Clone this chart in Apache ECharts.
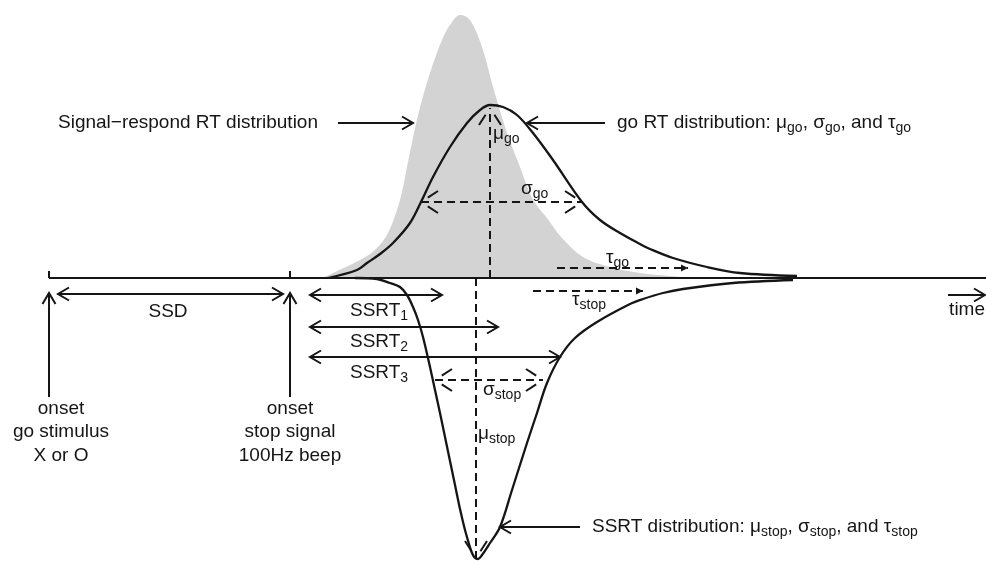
<!DOCTYPE html>
<html><head><meta charset="utf-8">
<script src="https://cdn.jsdelivr.net/npm/echarts@6/dist/echarts.min.js"></script>
<style>html,body{margin:0;padding:0;background:#fff}#c{width:986px;height:561px}</style>
</head><body><div id="c"></div>
<script>
// x: time (ms after go-stimulus onset), y: density (arbitrary units; SSRT drawn downward)
const goTime    = [279,308,318,331,344,361,372,384,401,418,431,441,454,468,484,504,533,551,571,591,601,624,658,691,748];
const goDensity = [0,8,15,24,35,55,76,101,131,155,168,173,171,163,145,118,76,58,45,34,29,20,11,5,2];

const srTime    = [273,284,311,326,339,351,358,365,373,383,393,401,411,421,433,444,458,471,484,498,513,534,561,591,621,646];
const srDensity = [0,5,18,28,45,78,111,145,178,211,238,253,263,258,231,191,145,111,78,60,40,21,11,5,2,0];

const ssrtTime    = [306,328,341,351,358,364,369,374,381,386,391,396,401,406,411,416,420,423,426,429,433,441,451,463,478,488,498,511,526,548,581,594,614,634,684,744];
const ssrtDensity = [0,-1,-5,-9,-17,-29,-42,-59,-89,-112,-135,-159,-183,-207,-231,-252,-266,-275,-280,-281,-277,-265,-249,-212,-165,-135,-105,-79,-60,-44,-26,-21,-15,-11,-5,-2];

// events on the time line
const goOnset = 0, stopOnset = 241, timeEnd = 937;

// solid arrows: [t1, d1, t2, d2, headAtStart, headAtEnd]
const solidArrows = [
  [9,-16,234,-16,1,1],      // SSD
  [0,-119,0,-15,0,1],       // onset go stimulus
  [241,-119,241,-15,0,1],   // onset stop signal
  [261,-17,393,-17,1,1],    // SSRT1
  [261,-49,449,-49,1,1],    // SSRT2
  [261,-79,511,-79,1,1],    // SSRT3
  [289,155,364,155,0,1],    // signal-respond pointer
  [556,155,478,155,0,1],    // go RT pointer
  [531,-249,451,-249,0,1],  // SSRT pointer
  [899,-17,936,-17,0,1]     // time
];
// dashed parameter arrows (mu, sigma)
const dashedArrows = [
  [441,0,441,170,0,1],      // mu go
  [372,76,533,76,1,1],      // sigma go
  [427,0,427,-280,0,1],     // mu stop
  [386,-102,494,-102,1,1]   // sigma stop
];
// dashed tau arrows
const tauArrows = [
  [508,10,639,10,0,1],      // tau go
  [484,-13,594,-13,0,1]     // tau stop
];
// time line and ticks
const axisLines = [
  [goOnset,0,timeEnd,0,0,0],
  [goOnset,0,goOnset,7,0,0],
  [stopOnset,0,stopOnset,7,0,0]
];

const labelText = [
  'Signal\u2212respond RT distribution',
  'go RT distribution: \u03bc{s|go}, \u03c3{s|go}, and \u03c4{s|go}',
  'SSRT distribution: \u03bc{s|stop}, \u03c3{s|stop}, and \u03c4{s|stop}',
  '\u03bc{s|go}',
  '\u03c3{s|go}',
  '\u03c4{s|go}',
  '\u03c4{s|stop}',
  'SSRT{s|1}',
  'SSRT{s|2}',
  'SSRT{s|3}',
  '\u03c3{s|stop}',
  '\u03bc{s|stop}',
  'SSD',
  'onset\ngo stimulus\nX or O',
  'onset\nstop signal\n100Hz beep',
  'time'
];
const labelAt = [[9,155],[568,155],[543,-249],[444,144],[472,89],[557,20],[523,-22],[301,-33],[301,-64],[301,-95],[434,-112],[429,-156],[119,-34],[12,-154],[241,-154],[936,-32]];
const labelAlign = ['left','left','left','left','left','left','left','left','left','left','left','left','center','center','center','right'];

const INK = '#151515';
const FONT = '"Liberation Sans", Arial, sans-serif';

function zip(a, b) { return a.map((v, i) => [v, b[i]]); }

function arrowSeries(data, mode) {
  return {
    type: 'custom',
    coordinateSystem: 'cartesian2d',
    silent: true,
    clip: false,
    z: 10,
    encode: { x: [0, 2], y: [1, 3] },
    data: data,
    renderItem: function (params, api) {
      const a = api.coord([api.value(0), api.value(1)]);
      const b = api.coord([api.value(2), api.value(3)]);
      const dashed = mode === 'dash' || mode === 'tau';
      const children = [{
        type: 'line',
        shape: { x1: a[0], y1: a[1], x2: b[0], y2: b[1] },
        style: { stroke: INK, lineWidth: 2, lineDash: dashed ? [8, 5] : null, lineCap: 'butt' }
      }];
      function head(tip, from) {
        const dx = tip[0] - from[0], dy = tip[1] - from[1];
        const len = Math.sqrt(dx * dx + dy * dy) || 1;
        const ux = dx / len, uy = dy / len;
        const nx = -uy, ny = ux;
        if (mode === 'tau') {
          const L = 7, W = 3.5;
          children.push({ type: 'polygon', shape: { points: [
            [tip[0], tip[1]],
            [tip[0] - ux * L + nx * W, tip[1] - uy * L + ny * W],
            [tip[0] - ux * L - nx * W, tip[1] - uy * L - ny * W]] },
            style: { fill: INK } });
        } else if (mode === 'dash') {
          const L = 17, W = 11;
          [1, -1].forEach(function (s) {
            const ex = tip[0] - ux * L + s * nx * W, ey = tip[1] - uy * L + s * ny * W;
            const sx = tip[0] + (ex - tip[0]) * 0.4, sy = tip[1] + (ey - tip[1]) * 0.4;
            children.push({ type: 'line', shape: { x1: sx, y1: sy, x2: ex, y2: ey },
              style: { stroke: INK, lineWidth: 2 } });
          });
        } else {
          const L = 11, W = 6.5;
          children.push({ type: 'polyline', shape: { points: [
            [tip[0] - ux * L + nx * W, tip[1] - uy * L + ny * W],
            [tip[0], tip[1]],
            [tip[0] - ux * L - nx * W, tip[1] - uy * L - ny * W]] },
            style: { stroke: INK, lineWidth: 2, fill: null, lineJoin: 'miter' } });
        }
      }
      if (api.value(4)) head(a, b);
      if (api.value(5)) head(b, a);
      return { type: 'group', children: children };
    }
  };
}

const chart = echarts.init(document.getElementById('c'), null, { renderer: 'canvas' });
chart.setOption({
  animation: false,
  backgroundColor: '#ffffff',
  grid: { left: 0, right: 0, top: 0, bottom: 0 },
  xAxis: { type: 'value', min: -49, max: 937, show: false },
  yAxis: { type: 'value', min: -283, max: 278, show: false },
  series: [
    {
      name: 'Signal-respond RT distribution', type: 'line', data: zip(srTime, srDensity),
      smooth: 0.35, showSymbol: false, symbol: 'none', z: 1,
      lineStyle: { width: 0, color: '#d3d3d3' },
      areaStyle: { color: '#d3d3d3', opacity: 1 }, silent: true
    },
    {
      name: 'go RT distribution', type: 'line', data: zip(goTime, goDensity),
      smooth: 0.35, showSymbol: false, symbol: 'none', z: 5,
      lineStyle: { width: 2.3, color: INK }, silent: true
    },
    {
      name: 'SSRT distribution', type: 'line', data: zip(ssrtTime, ssrtDensity),
      smooth: 0.35, showSymbol: false, symbol: 'none', z: 5,
      lineStyle: { width: 2.3, color: INK }, silent: true
    },
    arrowSeries(axisLines, 'axis'),
    arrowSeries(dashedArrows, 'dash'),
    arrowSeries(tauArrows, 'tau'),
    arrowSeries(solidArrows, 'solid'),
    {
      type: 'custom', coordinateSystem: 'cartesian2d', silent: true, clip: false, z: 20,
      encode: { x: 0, y: 1 },
      data: labelAt.map(function (p, i) { return [p[0], p[1], i]; }),
      renderItem: function (params, api) {
        const i = api.value(2);
        const p = api.coord([api.value(0), api.value(1)]);
        return {
          type: 'text', x: p[0], y: p[1],
          style: {
            text: labelText[i], fontSize: 19, fontFamily: FONT, fill: INK,
            align: labelAlign[i], verticalAlign: 'middle', lineHeight: 23.5,
            rich: { s: { fontSize: 14, fontFamily: FONT, fill: INK, padding: [10, 0, 0, 0] } }
          }
        };
      }
    }
  ]
});
</script>
</body></html>
